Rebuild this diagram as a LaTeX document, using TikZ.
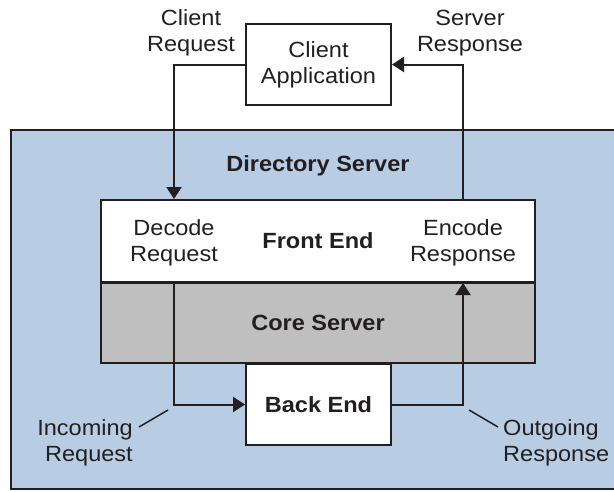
\documentclass[tikz,border=0pt]{standalone}
\usepackage{fontspec}
\setmainfont{Liberation Sans}[FakeStretch=1.07]
\usetikzlibrary{arrows.meta}
\definecolor{dsblue}{RGB}{184,204,228}
\definecolor{coregray}{RGB}{191,191,191}
\definecolor{ink}{RGB}{35,31,32}
\begin{document}
\begin{tikzpicture}[x=1pt,y=-1pt,
  every node/.style={font=\fontsize{22}{26}\selectfont, text=ink, inner sep=0pt},
  box/.style={draw=ink, line width=2pt, fill=white, align=center},
  lbl/.style={align=center},
  conn/.style={draw=ink, line width=2pt},
  arr/.style={conn, -{Triangle[length=12pt,width=15pt]}},
  leader/.style={draw=ink, line width=1.5pt}
]
\clip (0,0) rectangle (614,491);
% outer Directory Server area
\draw[draw=ink, line width=2pt, fill=dsblue] (11,130) rectangle (630,489);
\node[anchor=base] (dsl) at (318,171) {\bfseries Directory Server};
% boxes
\node[box, minimum width=434pt, minimum height=82pt] (fe) at (318,241) {\bfseries Front End};
\node[box, fill=coregray, minimum width=434pt, minimum height=80pt] (cs) at (318,323) {\bfseries Core Server};
\node[box, minimum width=145pt, minimum height=81pt] (be) at (318.5,404.5) {\bfseries Back End};
\node[box, minimum width=145pt, minimum height=81pt] (ca) at (318.5,64.5) {Client\\Application};
% labels (base anchor = baseline of the last line)
\node[lbl, anchor=base] (dec) at (174,261) {Decode\\Request};
\node[lbl, anchor=base] (enc) at (463,261) {Encode\\Response};
\node[lbl, anchor=base] (creq) at (191,51.5) {Client\\Request};
\node[lbl, anchor=base] (sresp) at (470,51.5) {Server\\Response};
\node[align=right, anchor=base east] (inc) at (133,461) {Incoming\\Request};
\node[align=left, anchor=base west] (out) at (503,461) {Outgoing\\Response};
% connectors
\draw[arr] (ca.west) -| (dec |- fe.north);
\draw[arr] (dec |- fe.south) |- (be.west);
\draw[arr, shorten >=1pt] (be.east) -| (enc |- cs.north);
\draw[arr] (enc |- fe.north) |- (ca.east);
% leaders
\coordinate (incA) at (139,427);
\coordinate (incB) at (168,410);
\coordinate (outA) at (469,410);
\coordinate (outB) at (498,427);
\draw[leader] (incA) -- (incB);
\draw[leader] (outA) -- (outB);
\end{tikzpicture}
\end{document}
